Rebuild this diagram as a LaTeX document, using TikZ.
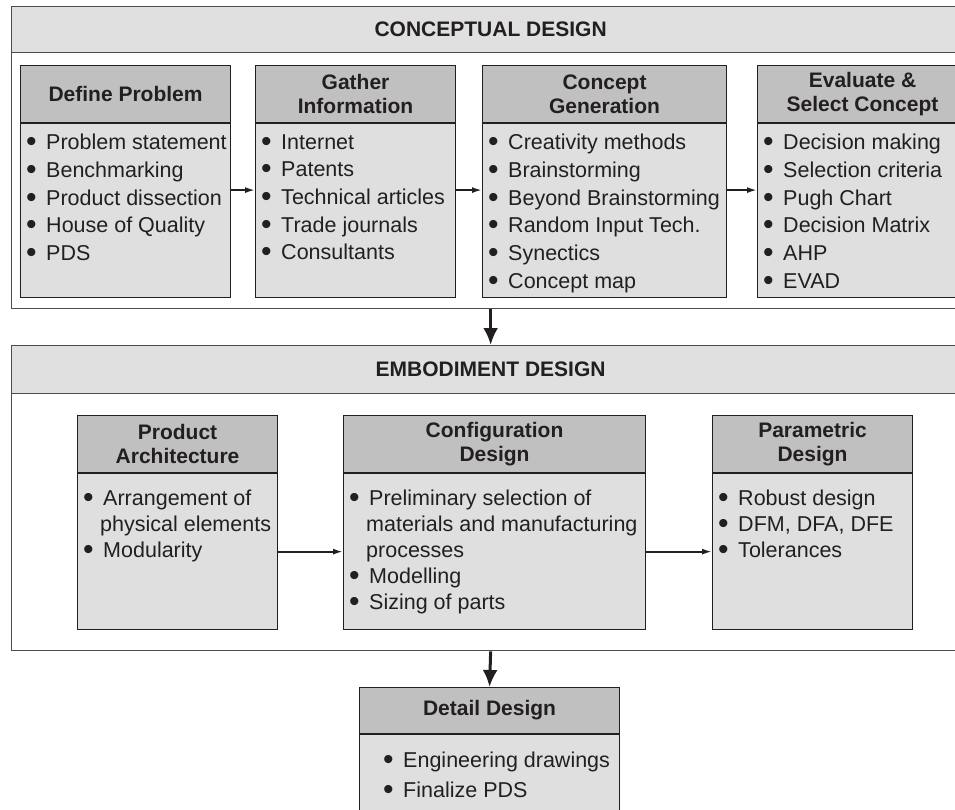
\documentclass[tikz,border=0pt]{standalone}
\usepackage{fontspec}
\setmainfont{Liberation Sans}
\usetikzlibrary{positioning,arrows.meta}

\definecolor{headgray}{HTML}{E0E0E0}
\definecolor{titlegray}{HTML}{C0C0C0}
\definecolor{bodygray}{HTML}{DFDFDF}
\definecolor{inkblack}{HTML}{231F20}
\definecolor{framegray}{HTML}{4D4D4D}

% bullet and hanging indent for the lists
\newcommand{\itm}{\smash{\raisebox{-2pt}{\scalebox{1.4}{\textbullet}}}\hspace{9.5pt}}
\newcommand{\cont}{\hspace*{17pt}}
% name, x, y, width, title height, body height, list options, title, items
\newcommand{\stage}[9]{%
  \node[titlebox, minimum width=#4, minimum height=#5] (#1) at (#2,#3) {#8};
  \node[bodybox, minimum width=#4, minimum height=#6, below=0pt of #1] (#1body) {};
  \node[listbox, #7] (#1list) at (#1body.north west) {#9};
}

\begin{document}
\begin{tikzpicture}[
    x=1pt, y=-1pt,
    every node/.append style={text=inkblack},
    stageframe/.style={draw=framegray, line width=1.3pt, fill=white, anchor=north west, inner sep=0pt},
    headbar/.style={draw=framegray, line width=1.3pt, fill=headgray, anchor=north west, inner sep=0pt,
                    font=\bfseries\fontsize{21}{24}\selectfont},
    titlebox/.style={draw=inkblack, line width=1.1pt, fill=titlegray, anchor=north west, align=center,
                     inner sep=0pt, font=\bfseries\fontsize{21}{24}\selectfont},
    bodybox/.style={draw=inkblack, line width=1.1pt, fill=bodygray, inner sep=0pt},
    listbox/.style={anchor=north west, align=left, inner xsep=6pt, inner ysep=11pt,
                    font=\fontsize{21.5}{27.7}\selectfont},
    flow/.style={-{Latex[length=10pt,width=6pt]}, line width=1.8pt, draw=inkblack},
    down/.style={-{Latex[length=17pt,width=15pt]}, line width=3pt, draw=inkblack}]

\useasboundingbox (0,0) rectangle (955,810);
\clip (0,0) rectangle (955,810);

% conceptual design
\node[stageframe, minimum width=958pt, minimum height=302pt] (concept) at (11,6) {};
\node[headbar, minimum width=958pt, minimum height=46pt] (concepthead) at (11,6) {CONCEPTUAL DESIGN};

\stage{define}{20}{65}{210pt}{57pt}{174pt}{}{Define Problem}
  {\itm Problem statement\\ \itm Benchmarking\\ \itm Product dissection\\ \itm House of Quality\\ \itm PDS}
\stage{gather}{255}{65}{200pt}{57pt}{174pt}{}{Gather\\ Information}
  {\itm Internet\\ \itm Patents\\ \itm Technical articles\\ \itm Trade journals\\ \itm Consultants}
\stage{generate}{482}{65}{244pt}{57pt}{174pt}{}{Concept\\ Generation}
  {\itm Creativity methods\\ \itm Brainstorming\\ \itm Beyond Brainstorming\\ \itm Random Input Tech.\\ \itm Synectics\\ \itm Concept map}
\stage{evaluate}{757}{65}{210pt}{57pt}{174pt}{}{Evaluate \&\\ Select Concept}
  {\itm Decision making\\ \itm Selection criteria\\ \itm Pugh Chart\\ \itm Decision Matrix\\ \itm AHP\\ \itm EVAD}

\draw[flow] ([yshift=-67pt]definebody.north east) -- ([yshift=-67pt]gatherbody.north west);
\draw[flow] ([yshift=-67pt]gatherbody.north east) -- ([yshift=-67pt]generatebody.north west);
\draw[flow] ([yshift=-67pt]generatebody.north east) -- ([yshift=-67pt]evaluatebody.north west);

% embodiment design
\node[stageframe, minimum width=958pt, minimum height=305pt] (embody) at (11,345) {};
\node[headbar, minimum width=958pt, minimum height=48pt] (embodyhead) at (11,345) {EMBODIMENT DESIGN};

\stage{product}{77}{415}{200pt}{57pt}{156pt}{inner ysep=17pt, font=\fontsize{21.5}{26}\selectfont}{Product\\ Architecture}
  {\itm Arrangement of\\ \cont physical elements\\ \itm Modularity}
\stage{config}{343}{415}{302pt}{57pt}{156pt}{inner ysep=17pt, font=\fontsize{21.5}{26}\selectfont}{Configuration\\ Design}
  {\itm Preliminary selection of\\ \cont materials and manufacturing\\ \cont processes\\ \itm Modelling\\ \itm Sizing of parts}
\stage{param}{712}{415}{200pt}{57pt}{156pt}{inner ysep=17pt, font=\fontsize{21.5}{26}\selectfont}{Parametric\\ Design}
  {\itm Robust design\\ \itm DFM, DFA, DFE\\ \itm Tolerances}

\draw[flow] (productbody.east) -- (configbody.west);
\draw[flow] (configbody.east) -- (parambody.west);

% detail design
\stage{detail}{359}{687}{260pt}{46pt}{100pt}{inner xsep=24pt, inner ysep=18pt, font=\fontsize{21.5}{30}\selectfont}{Detail Design}
  {\itm Engineering drawings\\ \itm Finalize PDS}

\draw[down] (concept.south) -- (embody.north);
\draw[down] (embody.south) -- (detail.north);

\end{tikzpicture}
\end{document}
